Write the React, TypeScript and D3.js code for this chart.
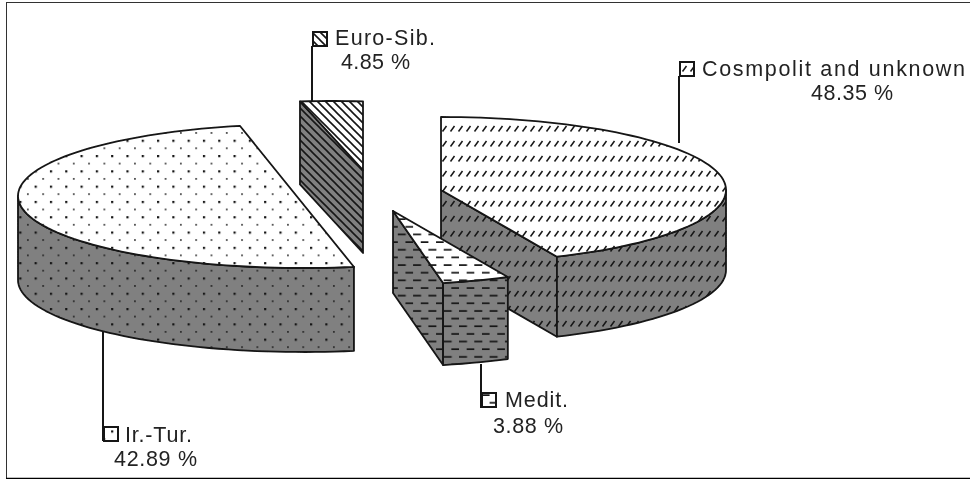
import React from "react";
import * as d3 from "d3";

const categories = ["Cosmpolit and unknown", "Medit.", "Ir.-Tur.", "Euro-Sib."];
const shares = [48.35, 3.88, 42.89, 4.85];

const WIDTH = 970;
const HEIGHT = 480;
const INK = "#141414";
const WALL = "#808080";

// the source is a hand-tilted 3D pie, each exploded slice has its own ellipse
const sliceLayout = [
  {
    key: "cosmo", pattern: "slash", cx: 441, cy: 190, rx: 285, ry: 73, apex: [441, 190], depth: 80,
    arc: [0, 156], cut: "end",
    leader: [679, 143, 76], box: [680, 62],
    name: [702, 76, 263], pct: [811, 100, 82],
  },
  {
    key: "medit", pattern: "dash", cx: 378, cy: 212, rx: 285, ry: 73, apex: [393, 211], depth: 82,
    arc: [152.9, 166.8], cut: "end",
    leader: [481, 364, 408], box: [482, 393],
    name: [505, 407, 63], pct: [493, 433, 70],
  },
  {
    key: "irtur", pattern: "dots", cx: 303, cy: 196, rx: 285, ry: 72, apex: [354, 267], depth: 84,
    arc: [169.7, 347.2], cut: null,
    leader: [103, 332, 441], box: [104, 427],
    name: [125, 442, 67], pct: [114, 466, 83],
  },
  {
    key: "euro", pattern: "hatch", cx: 331.5, cy: 174, rx: 285, ry: 73, apex: [363, 170], depth: 83,
    arc: [353.65, 366.35], cut: "start",
    leader: [312, 101, 46], box: [313, 32],
    name: [335, 45, 100], pct: [341, 69, 69],
  },
];

const drawOrder = ["euro", "cosmo", "irtur", "medit"];

const pie = d3.pie<number>().sort(null).startAngle(0).endAngle(2 * Math.PI);
const pieSlices = pie(shares);

const rad = (deg: number) => (deg * Math.PI) / 180;
const lineGen = d3.line();

function rimPoint(s: any, deg: number, drop = 0): [number, number] {
  return [s.cx + s.rx * Math.sin(rad(deg)), s.cy - s.ry * Math.cos(rad(deg)) + drop];
}

function rim(s: any, from: number, to: number, drop = 0) {
  const n = Math.max(2, Math.ceil(Math.abs(to - from) / 2));
  const angle = d3.scaleLinear().domain([0, n]).range([from, to]);
  return d3.range(n + 1).map((i) => rimPoint(s, angle(i), drop));
}

function PatternDefs({ name, bg, suffix }: { name: string; bg: string; suffix: string }) {
  const id = `${name}-${suffix}`;
  if (name === "dots") {
    return (
      <pattern id={id} width={15.3} height={15.3} patternUnits="userSpaceOnUse" x={4} y={2}>
        <rect width={15.3} height={15.3} fill={bg} />
        <rect x={0} y={0} width={2.2} height={2.2} fill={INK} />
        <rect x={7.65} y={7.65} width={1.8} height={1.8} fill={INK} opacity={0.75} />
      </pattern>
    );
  }
  if (name === "slash") {
    return (
      <pattern id={id} width={8} height={15} patternUnits="userSpaceOnUse" x={1} y={3}>
        <rect width={8} height={15} fill={bg} />
        <line x1={1.5} y1={8.5} x2={5.5} y2={3} stroke={INK} strokeWidth={1.5} />
      </pattern>
    );
  }
  if (name === "dash") {
    return (
      <pattern id={id} width={15.3} height={15.3} patternUnits="userSpaceOnUse" x={0} y={2}>
        <rect width={15.3} height={15.3} fill={bg} />
        <line x1={0} y1={3} x2={8} y2={3} stroke={INK} strokeWidth={1.7} />
        <line x1={7.65} y1={10.65} x2={15.3} y2={10.65} stroke={INK} strokeWidth={1.7} />
      </pattern>
    );
  }
  return (
    <pattern id={id} width={8} height={8} patternUnits="userSpaceOnUse">
      <rect width={8} height={8} fill={bg} />
      <path d="M0,0L8,8M-4,4L4,12M4,-4L12,4" stroke={INK} strokeWidth={1.6} fill="none" />
    </pattern>
  );
}

function Slice({ s, d }: { s: any; d: any }) {
  // pie angles are squeezed or stretched to follow the tilted drawing
  const warp = d3.scaleLinear().domain([d.startAngle, d.endAngle]).range(s.arc);
  const a0 = warp(d.startAngle);
  const a1 = warp(d.endAngle);
  const arcTop = rim(s, a0, a1);
  const top = lineGen([s.apex, ...arcTop])! + "Z";

  // outer wall: only the part of the rim facing the viewer
  const wallFrom = Math.max(a0, 90);
  const wallTo = Math.min(a1, 270);
  const wall =
    wallFrom < wallTo
      ? lineGen([...rim(s, wallFrom, wallTo), ...rim(s, wallTo, wallFrom, s.depth)])! + "Z"
      : null;

  // cut face along one of the radii
  let cut: string | null = null;
  if (s.cut) {
    const p = rimPoint(s, s.cut === "end" ? a1 : a0);
    cut =
      lineGen([
        s.apex,
        p,
        [p[0], p[1] + s.depth],
        [s.apex[0], s.apex[1] + s.depth],
      ])! + "Z";
  }

  return (
    <g stroke={INK} strokeWidth={1.8} strokeLinejoin="round">
      {cut && <path d={cut} fill={`url(#${s.pattern}-wall)`} />}
      {wall && <path d={wall} fill={`url(#${s.pattern}-wall)`} />}
      <path d={top} fill={`url(#${s.pattern}-top)`} />
    </g>
  );
}

export default function App() {
  const rows = sliceLayout.map((s, i) => ({ s, d: pieSlices[i], name: categories[i], share: shares[i] }));
  const ordered = drawOrder.map((k) => rows.find((r) => r.s.key === k)!);

  return (
    <svg
      width={WIDTH}
      height={HEIGHT}
      style={{ position: "absolute", left: 0, top: 0, background: "#fff" }}
      fontFamily="'Liberation Sans', Arial, sans-serif"
    >
      <defs>
        {sliceLayout.map((s) => (
          <React.Fragment key={s.key}>
            <PatternDefs name={s.pattern} bg="#fff" suffix="top" />
            <PatternDefs name={s.pattern} bg={WALL} suffix="wall" />
          </React.Fragment>
        ))}
        <filter id="soft" x="0" y="0" width="100%" height="100%">
          <feGaussianBlur stdDeviation={0.45} />
        </filter>
      </defs>

      <g filter="url(#soft)">
        {/* picture frame, the right side is cropped away in the source */}
        <path d={`M6,479V2H${WIDTH}`} fill="none" stroke="#333" strokeWidth={2} />
        <path d={`M6,479H${WIDTH}`} fill="none" stroke="#000" strokeWidth={2.5} />

        {ordered.map(({ s, d }) => (
          <Slice key={s.key} s={s} d={d} />
        ))}

        {rows.map(({ s, name, share }) => (
          <g key={s.key}>
            <line x1={s.leader[0]} x2={s.leader[0]} y1={s.leader[1]} y2={s.leader[2]} stroke={INK} strokeWidth={2} />
            <rect
              x={s.box[0]}
              y={s.box[1]}
              width={14}
              height={14}
              fill={`url(#${s.pattern}-top)`}
              stroke={INK}
              strokeWidth={2}
            />
            <text x={s.name[0]} y={s.name[1]} fontSize={21.5} fill="#222" textLength={s.name[2]} lengthAdjust="spacing">
              {name}
            </text>
            <text x={s.pct[0]} y={s.pct[1]} fontSize={21.5} fill="#222" textLength={s.pct[2]} lengthAdjust="spacing">
              {`${d3.format(".2f")(share)} %`}
            </text>
          </g>
        ))}
      </g>
    </svg>
  );
}
